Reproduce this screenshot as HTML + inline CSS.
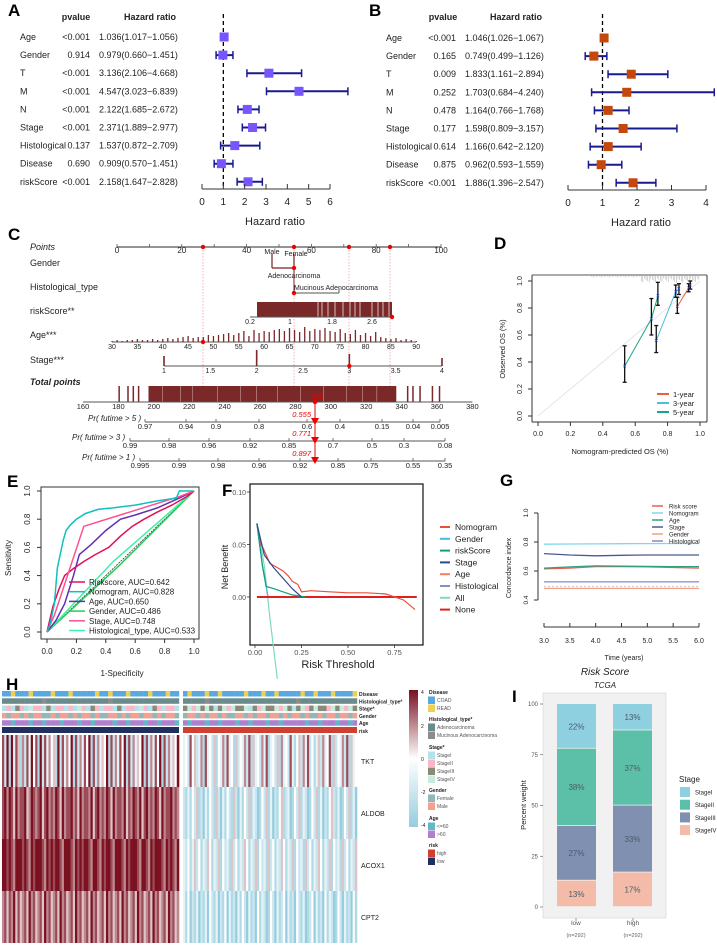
<!DOCTYPE html>
<html><head><meta charset="utf-8">
<style>
html,body{margin:0;padding:0;background:#fff;}
svg{display:block;font-family:"Liberation Sans Narrow","Liberation Sans",sans-serif;}
</style></head>
<body>
<svg id="fig" width="717" height="945" viewBox="0 0 717 945" xmlns="http://www.w3.org/2000/svg"></svg>
<script>
// ---------- DATA ----------
const forestVars = ['Age','Gender','T','M','N','Stage','Histological','Disease','riskScore'];
const pA = ['<0.001','0.914','<0.001','<0.001','<0.001','<0.001','0.137','0.690','<0.001'];
const hrA = [1.036,0.979,3.136,4.547,2.122,2.371,1.537,0.909,2.158];
const loA = [1.017,0.660,2.106,3.023,1.685,1.889,0.872,0.570,1.647];
const hiA = [1.056,1.451,4.668,6.839,2.672,2.977,2.709,1.451,2.828];
const pB = ['<0.001','0.165','0.009','0.252','0.478','0.177','0.614','0.875','<0.001'];
const hrB = [1.046,0.749,1.833,1.703,1.164,1.598,1.166,0.962,1.886];
const loB = [1.026,0.499,1.161,0.684,0.766,0.809,0.642,0.593,1.396];
const hiB = [1.067,1.126,2.894,4.240,1.768,3.157,2.120,1.559,2.547];
const ticksA = [0,1,2,3,4,5,6];
const ticksB = [0,1,2,3,4];

const ageSpikes = [1,2,1,2,2,3,2,2,3,2,3,4,3,4,5,6,4,5,5,7,6,7,8,9,7,9,11,6,12,9,11,10,12,13,11,14,12,10,15,11,13,12,14,11,10,13,9,8,12,7,9,6,10,5,4,3,4,2,3,2,1];
const pr5Labels = ['0.97','0.94','0.9','0.8','0.6','0.4','0.15','0.04','0.005'];
const pr5Pts = [145,186,216,259,307,340,382,413,440];
const pr3Labels = ['0.99','0.98','0.96','0.92','0.85','0.7','0.5','0.3','0.08'];
const pr3Pts = [130,169,209,250,289,333,372,404,445];
const pr1Labels = ['0.995','0.99','0.98','0.96','0.92','0.85','0.75','0.55','0.35'];
const pr1Pts = [140,179,218,259,300,338,371,413,445];

const d5x=[0.535,0.70,0.74], d5y=[0.37,0.72,0.89], d5lo=[0.25,0.60,0.82], d5hi=[0.52,0.87,0.99];
const d3x=[0.73,0.85,0.87], d3y=[0.56,0.92,0.94], d3lo=[0.47,0.88,0.90], d3hi=[0.67,0.97,0.98];
const d1x=[0.86,0.93,0.94], d1y=[0.81,0.95,0.97], d1lo=[0.76,0.92,0.94], d1hi=[0.88,0.98,1.0];

const rocNomoX=[0,0.02,0.05,0.07,0.09,0.11,0.13,0.16,0.2,0.26,0.35,0.45,0.6,0.75,0.88,0.9,1];
const rocNomoY=[0,0.05,0.2,0.45,0.55,0.65,0.72,0.76,0.8,0.84,0.87,0.88,0.9,0.93,0.95,1,1];
const rocStageX=[0,0.05,0.25,0.9,1], rocStageY=[0,0.12,0.75,0.96,1];
const rocRiskX=[0,0.04,0.08,0.12,0.18,0.25,0.33,0.42,0.5,0.58,0.66,0.75,0.85,0.95,1];
const rocRiskY=[0,0.18,0.3,0.4,0.45,0.5,0.55,0.6,0.68,0.75,0.8,0.85,0.9,0.96,1];
const rocAgeX=[0,0.06,0.12,0.18,0.22,0.3,0.4,0.5,0.6,0.75,0.9,1];
const rocAgeY=[0,0.08,0.2,0.4,0.55,0.62,0.72,0.8,0.83,0.88,0.95,1];
const rocGenderX=[0,0.5,1], rocGenderY=[0,0.48,1];
const rocHistX=[0,0.45,1], rocHistY=[0,0.5,1];
const aucLabels=['Riskscore, AUC=0.642','Nomogram, AUC=0.828','Age, AUC=0.650','Gender, AUC=0.486','Stage, AUC=0.748','Histological_type, AUC=0.533'];

const dcaNomoX=[0.01,0.03,0.04,0.06,0.08,0.1,0.12,0.15,0.18,0.2,0.23,0.25,0.3,0.4,0.5,0.6,0.7,0.72,0.8,0.86];
const dcaNomoY=[0.07,0.05,0.048,0.04,0.032,0.03,0.028,0.025,0.02,0.015,0.012,0.005,0.006,0.005,0.004,0.004,0.003,0.002,-0.003,-0.012];
const dcaStageX=[0.01,0.05,0.1,0.15,0.2,0.25], dcaStageY=[0.07,0.04,0.028,0.018,0.008,0];
const dcaRiskX=[0.01,0.04,0.06,0.1,0.15,0.2,0.27], dcaRiskY=[0.07,0.03,0.01,0.008,0.005,0.002,0];
const dcaAllX=[0.01,0.05,0.08,0.12], dcaAllY=[0.07,0.03,-0.02,-0.078];
const dcaAgeX=[0.01,0.04,0.07], dcaAgeY=[0.07,0.03,0];
const dcaNoneX=[0.01,0.87], dcaNoneY=[0,0];

const gTimes=[3,3.5,4,4.5,5,5.5,6];
const cRisk=[0.615,0.62,0.63,0.63,0.628,0.624,0.62];
const cNomo=[0.785,0.786,0.787,0.788,0.789,0.79,0.79];
const cAge=[0.62,0.628,0.635,0.633,0.632,0.63,0.63];
const cStage=[0.72,0.71,0.705,0.708,0.71,0.71,0.71];
const cGender=[0.48,0.48,0.48,0.48,0.48,0.48,0.48];
const cHist=[0.525,0.525,0.525,0.525,0.525,0.525,0.525];

const hmTKT_L="72818375162738471827364518273648172637481726354817263748172635481726374817263548";
const hmTKT_R="34274523617342514362734152436271534263713425163427314526372413526347152436271534";
const hmALDOB_L="78687586778568767857867687586778675867768578676875867768576876857867687586778676";
const hmALDOB_R="21314251203142152031421520314251320142513021451230142513201425130214521301425130";
const hmACOX1_L="88787688878768788876878788768887687878876887687887688876878887688768788876878768";
const hmACOX1_R="32413524132541325142315241325413251423152413254132514231524132541325142315241325";
const hmCPT2_L="67576857567586756758675675867567586756758675675867567586756758675675867567586756";
const hmCPT2_R="31402130213042130214031203142031204132014203124031204213012403120413201420312041";
const annDisL="ccrcccrccccrcccrcccccrccrcccrccccrcccrcc", annDisR="crcccrccrcccccrcccrccrcccccrccrcccrccccr";
const annHisL="aaaaaaaaamaaaaaaaaaaaaaamaaaaaaaaaaaaaaa", annHisR="aaaaamaaaaaaaaaaaaaaaaaaaamaaaaaaaaaaaaa";
const annStgL="1213214221312212142132122131221421321221", annStgR="3424343134243341324334243134234332434243";
const annGenL="mfmmfmfmmffmfmmfmfmmfmffmmfmfmmfmmfmfmmf", annGenR="fmmfmfmmfmffmmfmfmmfmmfmfmmfmffmfmmfmmfm";
const annAgeL="ooyoooyooyoooyoooyooyooooyooyoooyooyoooy", annAgeR="oyoooyooyoooyooyoooyooyoooooyooyoooyooyo";

const stageNames=['StageIV','StageIII','StageII','StageI'];
const lowPct=[13,27,38,22];
const highPct=[17,33,37,13];
const iTicks=[0,25,50,75,100];

// ---------- HELPERS ----------
const NS='http://www.w3.org/2000/svg';
const svg=document.getElementById('fig');
function mk(tag,attrs,name,parent){
  const el=document.createElementNS(NS,tag);
  for(const k in attrs) el.setAttribute(k,attrs[k]);
  
  
  (parent||svg).appendChild(el); return el;
}
function grp(name){return mk('g',{},name,svg);}
function tx(x,y,s,size,name,parent,extra){
  const a=Object.assign({x:x,y:y,'font-size':size,fill:'#222'},extra||{});
  const t=mk('text',a,name,parent); t.textContent=s; return t;
}
function ln(x1,y1,x2,y2,stroke,w,name,parent,extra){
  return mk('line',Object.assign({x1:x1,y1:y1,x2:x2,y2:y2,stroke:stroke,'stroke-width':w},extra||{}),name,parent);
}
function poly(xs,ys,fx,fy,stroke,w,name,parent){
  const pts=xs.map((v,i)=>fx(v).toFixed(1)+','+fy(ys[i]).toFixed(1)).join(' ');
  return mk('polyline',{points:pts,fill:'none',stroke:stroke,'stroke-width':w},name,parent);
}
function panelLabel(s,x,y){tx(x,y,s,17,'panel-label-'+s.toLowerCase(),svg,{'font-weight':'bold','font-family':'Liberation Sans, sans-serif',fill:'#000'});}

// ---------- FOREST PLOTS ----------
function forest(letter,lx,y0,labX,pRight,hrX,ax0,ax1,maxT,ticks,ps,hr,lo,hi,col,labelX,headP,headH){
  const g=grp('forest-plot-'+letter);
  const fx=v=>ax0+(ax1-ax0)*v/maxT;
  tx(headP,20,'pvalue',9,'pvalue-header',g,{'font-weight':'bold','text-anchor':'middle'});
  tx(headH,20,'Hazard ratio',9,'hazard-ratio-header',g,{'font-weight':'bold','text-anchor':'middle'});
  ln(fx(1),14,fx(1),186,'#000',1.3,'reference-line',g,{'stroke-dasharray':'4,3'});
  forestVars.forEach((v,i)=>{
    const y=y0+i*18.1;
    tx(labX,y+3,v,9,'row-label-'+v,g);
    tx(pRight,y+3,ps[i],9,'pvalue-'+v,g,{'text-anchor':'end'});
    tx(hrX,y+3,hr[i].toFixed(3)+'('+lo[i].toFixed(3)+'\u2212'+hi[i].toFixed(3)+')',9,'hr-text-'+v,g);
    const x1=fx(lo[i]), x2=Math.min(fx(hi[i]),716);
    ln(x1,y,x2,y,'#1a1a90',2,'ci-bar-'+v,g);
    ln(x1,y-4,x1,y+4,'#1a1a90',1.5,'ci-cap-'+v,g);
    if(fx(hi[i])<716) ln(x2,y-4,x2,y+4,'#1a1a90',1.5,'ci-cap-'+v,g);
    const s=9; mk('rect',{x:fx(hr[i])-s/2,y:y-s/2,width:s,height:s,fill:col},'hr-point-'+v,g);
  });
  const ay=y0+152;
  ln(ax0,ay,ax1,ay,'#333',1,'x-axis-line',g);
  ticks.forEach(t=>{ln(fx(t),ay,fx(t),ay-5,'#333',1,'x-tick',g);
    tx(fx(t),ay+16,String(t),10,'x-tick-label',g,{'text-anchor':'middle'});});
  tx(labelX,ay+36,'Hazard ratio',11,'x-axis-title',g,{'text-anchor':'middle'});
}
panelLabel('A',8,16);
forest('a',0,37,20,90,99,202,330,6,ticksA,pA,hrA,loA,hiA,'#7755ff',275,76,150);
panelLabel('B',369,16);
forest('b',0,38,386,456,465,568,706,4,ticksB,pB,hrB,loB,hiB,'#c4480c',641,443,516);

// ---------- NOMOGRAM ----------
panelLabel('C',8,240);
(function(){
  const g=grp('nomogram');
  const px=p=>117+3.24*p;
  const ay=247;
  tx(30,250,'Points',9,'points-label',g,{'font-style':'italic'});
  ln(px(0),ay,px(100),ay,'#555',1.2,'points-axis',g);
  for(let p=0;p<=100;p+=10){ln(px(p),ay,px(p),ay-3,'#555',0.8,'points-tick',g);}
  for(let p=0;p<=100;p+=20){tx(px(p),ay+6,String(p),8,'points-tick-label',g,{'text-anchor':'middle'});}
  const dots=[203,294,349,390];
  dots.forEach(x=>{ln(x,ay,x,402,'#f08080',0.6,'guide-line',g,{'stroke-dasharray':'1.5,1.5'});});
  dots.forEach(x=>mk('circle',{cx:x,cy:ay,r:2.2,fill:'#e00'},'points-marker',g));
  tx(30,266,'Gender',9,'gender-label',g);
  ln(272,268,294,268,'#7a2020',1.2,'gender-axis',g);
  ln(272,254,272,268,'#7a2020',1.2,'gender-tick',g);ln(294,254,294,268,'#7a2020',1.2,'gender-tick',g);
  tx(272,254,'Male',7,'male-label',g,{'text-anchor':'middle'});tx(296,256,'Female',7,'female-label',g,{'text-anchor':'middle'});
  mk('circle',{cx:294,cy:268,r:2.2,fill:'#e00'},'gender-marker',g);
  tx(30,290,'Histological_type',9,'histological-label',g);
  tx(294,278,'Adenocarcinoma',7,'adeno-label',g,{'text-anchor':'middle'});
  tx(294,290,'Mucinous Adenocarcinoma',7,'mucinous-label',g);
  ln(294,293,339,293,'#555',1,'hist-axis',g);ln(294,270,294,293,'#7a2020',1,'hist-tick',g);ln(339,288,339,293,'#555',1,'hist-tick',g);
  mk('circle',{cx:294,cy:293,r:2.2,fill:'#e00'},'hist-marker',g);
  tx(30,314,'riskScore**',9,'riskscore-label',g);
  mk('rect',{x:257,y:302,width:135,height:15,fill:'#7a2828'},'riskscore-bars',g);
  [318,322,328,335,343,350,355,360,372,378,383,389].forEach(x=>ln(x,302,x,317,'#fff',0.7,'riskscore-gap',g));
  ln(250,317,392,317,'#555',1,'riskscore-axis',g);
  [['0.2',250],['1',290],['1.8',332],['2.6',372]].forEach(a=>tx(a[1],324,a[0],7,'riskscore-tick-label',g,{'text-anchor':'middle'}));
  mk('circle',{cx:392,cy:317,r:2.2,fill:'#e00'},'riskscore-marker',g);
  tx(30,338,'Age***',9,'age-label',g);
  const ax=a=>112+5.07*(a-30);
  ln(ax(30),342,ax(90),342,'#555',1,'age-axis',g);
  ageSpikes.forEach((h,i)=>mk('rect',{x:ax(30+i)-0.6,y:342-h,width:1.3,height:h,fill:'#7a2828'},'age-spike',g));
  for(let a=30;a<=90;a+=5) tx(ax(a),349,String(a),7,'age-tick-label',g,{'text-anchor':'middle'});
  mk('circle',{cx:203,cy:342,r:2.2,fill:'#e00'},'age-marker',g);
  tx(30,363,'Stage***',9,'stage-label',g);
  const sx=s=>164+(442-164)*(s-1)/3;
  ln(sx(1),366,sx(4),366,'#555',1,'stage-axis',g);
  [[1,10],[2,16],[3,12],[4,8]].forEach(a=>mk('rect',{x:sx(a[0])-0.8,y:366-a[1],width:1.6,height:a[1],fill:'#7a2828'},'stage-spike',g));
  [1,1.5,2,2.5,3,3.5,4].forEach(s=>tx(sx(s),373,String(s),7,'stage-tick-label',g,{'text-anchor':'middle'}));
  mk('circle',{cx:sx(3),cy:366,r:2.2,fill:'#e00'},'stage-marker',g);
  tx(30,385,'Total points',9,'total-points-label',g,{'font-weight':'bold','font-style':'italic'});
  const tp=v=>83+1.77*(v-160);
  [180,185,188,191].forEach(v=>mk('rect',{x:tp(v),y:386,width:1.5,height:16,fill:'#7a2828'},'total-bar',g));
  mk('rect',{x:tp(197),y:386,width:tp(337)-tp(197),height:16,fill:'#7a2828'},'total-bars',g);
  [343,346,350,357,361].forEach(v=>mk('rect',{x:tp(v),y:386,width:1.5,height:16,fill:'#7a2828'},'total-bar',g));
  [205,215,222,236,249,258,270,283,296,309,318,326].forEach(v=>ln(tp(v),386,tp(v),402,'#c9a0a0',0.6,'total-gap',g));
  ln(tp(160),402,tp(380),402,'#555',1,'total-axis',g);
  for(let v=160;v<=380;v+=20) tx(tp(v),409,String(v),7.5,'total-tick-label',g,{'text-anchor':'middle'});
  tx(317,399,'291',7,'total-value',g,{fill:'#e00','text-anchor':'middle'});
  const rows=[[422,'Pr( futime > 5 )',88,pr5Labels,pr5Pts,'0.555'],[441,'Pr( futime > 3 )',72,pr3Labels,pr3Pts,'0.771'],[461,'Pr( futime > 1 )',82,pr1Labels,pr1Pts,'0.897']];
  rows.forEach((r,k)=>{
    tx(r[2],r[0]-1,r[1],8,'prob-label-'+k,g,{'font-style':'italic'});
    ln(r[4][0],r[0],r[4][r[4].length-1],r[0],'#555',1,'prob-axis-'+k,g);
    r[3].forEach((s,i)=>{ln(r[4][i],r[0],r[4][i],r[0]-3,'#555',0.8,'prob-tick',g);tx(r[4][i],r[0]+7,s,7.5,'prob-tick-label',g,{'text-anchor':'middle'});});
    tx(311,r[0]-5,r[5],7.5,'prob-value-'+k,g,{fill:'#e00','font-style':'italic','text-anchor':'end'});
    mk('polygon',{points:`311,${r[0]-4} 319,${r[0]-4} 315,${r[0]+3}`,fill:'#e00'},'prob-marker',g);
  });
  ln(315,402,315,462,'#e00',1,'prediction-line',g);
  mk('circle',{cx:315,cy:402,r:2.2,fill:'#e00'},'total-marker',g);
})();

// ---------- CALIBRATION D ----------
panelLabel('D',494,249);
(function(){
  const g=grp('calibration-plot');
  const fx=v=>538+162*v, fy=v=>416-135*v;
  ln(532,275,532,422,'#333',1,'y-axis',g);ln(532,422,707,422,'#333',1,'x-axis',g);
  ln(707,275,707,422,'#333',1,'frame',g);ln(532,275,707,275,'#555',1,'frame',g);
  for(let x=590;x<=700;x+=1.6){const h=(x>640)?3+((x*7)%5):1+((x*3)%2);ln(x,275,x,275+h,'#aaa',0.5,'rug',g);}
  ln(fx(0),fy(0),fx(1),fy(1),'#ddd',0.8,'ideal-line',g);
  [0,0.2,0.4,0.6,0.8,1].forEach(v=>{ln(fx(v),422,fx(v),426,'#333',1,'x-tick',g);tx(fx(v),436,v.toFixed(1),7,'x-tick-label',g,{'text-anchor':'middle'});
    ln(532,fy(v),528,fy(v),'#333',1,'y-tick',g);tx(522,fy(v),v.toFixed(1),7,'y-tick-label',g,{'text-anchor':'middle',transform:`rotate(-90 522 ${fy(v)})`});});
  tx(620,454,'Nomogram-predicted OS (%)',7.5,'x-axis-title',g,{'text-anchor':'middle'});
  tx(505,349,'Observed OS (%)',7.5,'y-axis-title',g,{'text-anchor':'middle',transform:'rotate(-90 505 349)'});
  [[d5x,d5y,d5lo,d5hi,'#1aa58a'],[d3x,d3y,d3lo,d3hi,'#4ac0d8'],[d1x,d1y,d1lo,d1hi,'#e8603c']].forEach((s,k)=>{
    poly(s[0],s[1],fx,fy,s[4],1,'calib-line-'+k,g);
    s[0].forEach((x,i)=>{ln(fx(x),fy(s[2][i]),fx(x),fy(s[3][i]),'#111',1.3,'error-bar',g);
      ln(fx(x)-2,fy(s[2][i]),fx(x)+2,fy(s[2][i]),'#111',1.3,'error-cap',g);ln(fx(x)-2,fy(s[3][i]),fx(x)+2,fy(s[3][i]),'#111',1.3,'error-cap',g);
      tx(fx(x),fy(s[1][i])+2,'\u00d7',6,'calib-point',g,{fill:'#2040e0','text-anchor':'middle','font-weight':'bold'});});
  });
  [['1-year','#e8603c',394],['3-year','#4ac0d8',403],['5-year','#1aa58a',412]].forEach(l=>{
    ln(657,l[2],669,l[2],l[1],2,'legend-swatch',g);tx(673,l[2]+3,l[0],7.5,'legend-label',g);});
})();

// ---------- ROC E ----------
panelLabel('E',7,487);
(function(){
  const g=grp('roc-plot');
  const fx=v=>47+147*v, fy=v=>632-141*v;
  mk('rect',{x:41,y:487,width:158,height:152,fill:'none',stroke:'#333','stroke-width':1},'plot-frame',g);
  [0,0.2,0.4,0.6,0.8,1].forEach(v=>{ln(fx(v),639,fx(v),643,'#333',1,'x-tick',g);tx(fx(v),654,v.toFixed(1),8,'x-tick-label',g,{'text-anchor':'middle'});
    ln(41,fy(v),37,fy(v),'#333',1,'y-tick',g);tx(30,fy(v),v.toFixed(1),8,'y-tick-label',g,{'text-anchor':'middle',transform:`rotate(-90 30 ${fy(v)})`});});
  tx(122,676,'1-Specificity',8,'x-axis-title',g,{'text-anchor':'middle'});
  tx(11,558,'Sensitivity',8,'y-axis-title',g,{'text-anchor':'middle',transform:'rotate(-90 11 558)'});
  poly([0,1],[0,1],fx,fy,'#333',0.8,'diagonal',g).setAttribute('stroke-dasharray','2,1');
  const series=[[rocGenderX,rocGenderY,'#20d050'],[rocHistX,rocHistY,'#40f0a8'],[rocAgeX,rocAgeY,'#6030b0'],[rocRiskX,rocRiskY,'#e0105a'],[rocStageX,rocStageY,'#ff5090'],[rocNomoX,rocNomoY,'#10c0c0']];
  series.forEach((s,k)=>poly(s[0],s[1],fx,fy,s[2],1.5,'roc-curve-'+k,g));
  const lc=['#e0105a','#10c0c0','#6030b0','#20d050','#ff5090','#40f0a8'];
  aucLabels.forEach((s,i)=>{const y=582+i*9.7;ln(69,y,85,y,lc[i],1.5,'legend-swatch',g);tx(89,y+3,s,8,'legend-label',g);});
})();

// ---------- DCA F ----------
(function(){
  const g=grp('dca-plot');
  tx(222,496,'F',17,'panel-label-f',g,{'font-weight':'bold','font-family':'Liberation Sans, sans-serif',fill:'#000'});
  const fx=t=>255+186*t, fy=v=>597-1050*v;
  mk('rect',{x:250,y:484,width:173,height:161,fill:'none',stroke:'#111','stroke-width':1.2},'plot-frame',g);
  [0,0.05,0.1].forEach(v=>{tx(246,fy(v)+3,v.toFixed(2),7,'y-tick-label',g,{'text-anchor':'end',fill:'#555'});ln(250,fy(v),247,fy(v),'#333',0.8,'y-tick',g);});
  [0,0.25,0.5,0.75].forEach(v=>{ln(fx(v),645,fx(v),648,'#333',0.8,'x-tick',g);tx(fx(v),655,v.toFixed(2),7.5,'x-tick-label',g,{'text-anchor':'middle',fill:'#555'});});
  tx(338,668,'Risk Threshold',11,'x-axis-title',g,{'text-anchor':'middle'});
  tx(228,567,'Net Benefit',9,'y-axis-title',g,{'text-anchor':'middle',transform:'rotate(-90 228 567)'});
  const cs=[[dcaAllX,dcaAllY,'#80d8c0','all'],[dcaAgeX,dcaAgeY,'#f08060','age'],[dcaAgeX,dcaAgeY,'#40c0e0','gender'],[dcaNoneX,dcaNoneY,'#e02020','none'],[dcaNomoX,dcaNomoY,'#e8503a','nomogram'],[dcaRiskX,dcaRiskY,'#10a080','riskscore'],[dcaStageX,dcaStageY,'#304890','stage']];
  cs.forEach(s=>poly(s[0],s[1],fx,fy,s[2],s[3]==='none'?2:1.2,'dca-curve-'+s[3],g));
  const L=[['Nomogram','#e8503a'],['Gender','#40c0e0'],['riskScore','#10a080'],['Stage','#304890'],['Age','#f08060'],['Histological','#8090c0'],['All','#80d8c0'],['None','#e02020']];
  L.forEach((l,i)=>{const y=527+i*11.8;ln(440,y,450,y,l[1],2,'legend-swatch',g);tx(455,y+3,l[0],8.5,'legend-label',g);});
})();

// ---------- C-INDEX G ----------
panelLabel('G',500,486);
(function(){
  const g=grp('cindex-plot');
  const fx=t=>544+(699-544)*(t-3)/3, fy=v=>513+145*(1-v);
  ln(538,fy(1),538,fy(0.4),'#333',1,'y-axis',g);
  [0.4,0.6,0.8,1].forEach(v=>{ln(538,fy(v),534,fy(v),'#333',1,'y-tick',g);tx(528,fy(v),v.toFixed(1),6.5,'y-tick-label',g,{'text-anchor':'middle',transform:`rotate(-90 528 ${fy(v)})`});});
  ln(544,627,699,627,'#333',1,'x-axis',g);
  gTimes.forEach(t=>{ln(fx(t),627,fx(t),623,'#333',1,'x-tick',g);tx(fx(t),643,t.toFixed(1),7,'x-tick-label',g,{'text-anchor':'middle'});});
  tx(624,660,'Time (years)',7,'x-axis-title',g,{'text-anchor':'middle'});
  tx(511,568,'Concordance index',7,'y-axis-title',g,{'text-anchor':'middle',transform:'rotate(-90 511 568)'});
  ln(fx(3),fy(0.495),fx(6),fy(0.495),'#bbb',0.8,'reference-line',g,{'stroke-dasharray':'2,2'});
  const S=[['Risk score',cRisk,'#e86050'],['Nomogram',cNomo,'#80d8e8'],['Age',cAge,'#30a080'],['Stage',cStage,'#4a5a90'],['Gender',cGender,'#f4a080'],['Histological',cHist,'#8888c8']];
  S.forEach((s,i)=>{poly(gTimes,s[1],fx,fy,s[2],1.3,'cindex-line-'+s[0],g);
    const y=506+i*7;ln(652,y,663,y,s[2],1.5,'legend-swatch',g);tx(669,y+2.5,s[0],6,'legend-label',g);});
})();

// ---------- HEATMAP H ----------
panelLabel('H',6,690);
(function(){
  const g=grp('heatmap');
  function col(d){const v=(+d-4)/4;
    if(v>=0){const a=[255,255,255],b=[122,16,32];return `rgb(${a.map((c,i)=>Math.round(c+(b[i]-c)*v)).join(',')})`;}
    const a=[255,255,255],b=[150,205,222];return `rgb(${a.map((c,i)=>Math.round(c+(b[i]-c)*(-v))).join(',')})`;}
  const genes=[['TKT',hmTKT_L,hmTKT_R],['ALDOB',hmALDOB_L,hmALDOB_R],['ACOX1',hmACOX1_L,hmACOX1_R],['CPT2',hmCPT2_L,hmCPT2_R]];
  const blocks=[[2,179],[183,357]];
  genes.forEach((gn,r)=>{const y0=735+r*52;
    [gn[1],gn[2]].forEach((s,b)=>{const w=(blocks[b][1]-blocks[b][0])/s.length;
      for(let i=0;i<s.length;i++){mk('rect',{x:(blocks[b][0]+i*w).toFixed(2),y:y0,width:(w+0.3).toFixed(2),height:52,fill:col(s[i])},'heatmap-cell',g);}});
    tx(361,y0+29,gn[0],7,'gene-label-'+gn[0],g);});
  const cmap={c:'#5aa8e0',r:'#f0d050',a:'#6a8a8c',m:'#8c8c8c','1':'#b4e2ea','2':'#f8b8c8','3':'#8a8a78','4':'#c8ecdc',f:'#90b8b8',M:'#f4a090',y:'#60b8c8',o:'#b080d0'};
  const ann=[['Disease',annDisL,annDisR,''],['Histological_type*',annHisL,annHisR,''],['Stage*',annStgL,annStgR,''],['Gender',annGenL,annGenR,'g'],['Age',annAgeL,annAgeR,'']];
  ann.forEach((a,r)=>{const y=691+r*7.3;
    [a[1],a[2]].forEach((s,b)=>{const w=(blocks[b][1]-blocks[b][0])/s.length;
      for(let i=0;i<s.length;i++){let k=s[i]; if(a[3]==='g'&&k==='m')k='M';
        mk('rect',{x:(blocks[b][0]+i*w).toFixed(2),y:y,width:(w+0.2).toFixed(2),height:5.5,fill:cmap[k]},'annotation-cell',g);}});
    tx(359,y+5,a[0],5,'annotation-label',g,{'font-weight':'bold'});});
  mk('rect',{x:2,y:727,width:177,height:6,fill:'#1e2f60'},'risk-low-bar',g);
  mk('rect',{x:183,y:727,width:174,height:6,fill:'#d04030'},'risk-high-bar',g);
  tx(359,733,'risk',5,'annotation-label',g,{'font-weight':'bold'});
  const def=mk('defs',{},'defs',svg);
  const lg=mk('linearGradient',{id:'cb',x1:0,y1:0,x2:0,y2:1},'colorbar-gradient',def);
  mk('stop',{offset:'0',  'stop-color':'#7a1020'},'stop',lg);mk('stop',{offset:'0.5','stop-color':'#ffffff'},'stop',lg);mk('stop',{offset:'1','stop-color':'#96cdde'},'stop',lg);
  mk('rect',{x:409,y:690,width:9,height:137,fill:'url(#cb)'},'colorbar',g);
  [['4',692],['2',726],['0',759],['-2',792],['-4',825]].forEach(t=>tx(421,t[1]+2,t[0],5,'colorbar-tick',g));
  const leg=[['Disease',692,null],['COAD',700,'#5aa8e0'],['READ',708,'#f0d050'],['Histological_type*',719,null],['Adenocarcinoma',727,'#6a8a8c'],['Mucinous Adenocarcinoma',735,'#8c8c8c'],
    ['Stage*',747,null],['StageI',755,'#b4e2ea'],['StageII',763,'#f8b8c8'],['StageIII',771,'#8a8a78'],['StageIV',779,'#c8ecdc'],
    ['Gender',790,null],['Female',798,'#90b8b8'],['Male',806,'#f4a090'],['Age',818,null],['<=60',826,'#60b8c8'],['>60',834,'#b080d0'],
    ['risk',845,null],['high',853,'#d04030'],['low',861,'#1e2f60']];
  leg.forEach(l=>{ if(!l[2]) tx(429,l[1]+2,l[0],5,'legend-title',g,{'font-weight':'bold'});
    else {mk('rect',{x:428,y:l[1]-3.5,width:7,height:7.5,fill:l[2]},'legend-swatch',g);tx(437,l[1]+2,l[0],5,'legend-label',g,{fill:'#555'});}});
})();

// ---------- STACKED BARS I ----------
(function(){
  const g=grp('stacked-bar-plot');
  tx(512,702,'I',17,'panel-label-i',g,{'font-weight':'bold','font-family':'Liberation Sans, sans-serif',fill:'#000'});
  tx(605,675,'Risk Score',10,'chart-title',g,{'font-style':'italic','text-anchor':'middle'});
  tx(605,688,'TCGA',8,'chart-subtitle',g,{'font-style':'italic','text-anchor':'middle'});
  mk('rect',{x:543,y:693,width:123,height:225,fill:'#f0f1f0',stroke:'#ccc','stroke-width':0.5},'plot-background',g);
  const fy=p=>907-2.03*p;
  iTicks.forEach(t=>{tx(538,fy(t)+2,String(t),6,'y-tick-label',g,{'text-anchor':'end',fill:'#555'});ln(540,fy(t),543,fy(t),'#555',0.6,'y-tick',g);});
  tx(526,805,'Percent weight',7.5,'y-axis-title',g,{'text-anchor':'middle',transform:'rotate(-90 526 805)'});
  const colors=['#f4bca8','#8090b0','#5cc0a8','#8fd0e0'];
  [[557,lowPct,'low',576],[613,highPct,'high',633]].forEach(b=>{let acc=0;
    b[1].forEach((p,i)=>{mk('rect',{x:b[0],y:fy(acc+p),width:39,height:fy(acc)-fy(acc+p)-0.8,fill:colors[i]},'bar-'+b[2]+'-'+stageNames[i],g);
      tx(b[0]+19.5,fy(acc+p/2)+3,p+'%',8,'bar-label',g,{'text-anchor':'middle',fill:'#4a5a6a'});acc+=p;});
    tx(b[3],925,b[2],6.5,'x-tick-label',g,{'text-anchor':'middle',fill:'#555'});
    tx(b[3],937,'(n=292)',5.5,'x-count-label',g,{'text-anchor':'middle',fill:'#666'});
    ln(b[3],918,b[3],921,'#555',0.6,'x-tick',g);});
  tx(679,782,'Stage',8,'legend-title',g);
  [['StageI','#8fd0e0'],['StageII','#5cc0a8'],['StageIII','#8090b0'],['StageIV','#f4bca8']].forEach((l,i)=>{const y=792+i*12.7;
    mk('rect',{x:680,y:y-5,width:10,height:10,fill:l[1]},'legend-swatch',g);tx(695,y+2.5,l[0],6,'legend-label',g);});
})();
</script>
</body></html>
